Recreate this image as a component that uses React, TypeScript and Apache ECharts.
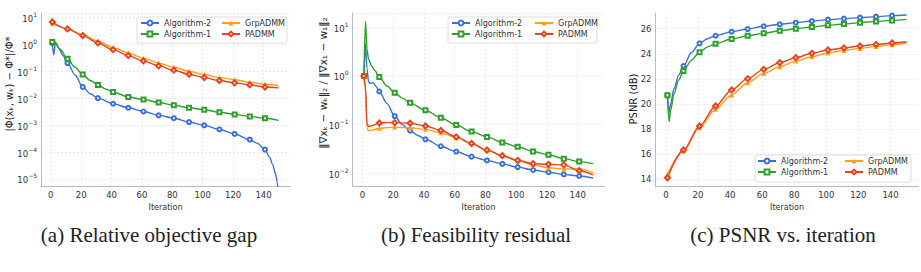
import React, { useEffect, useRef } from 'react';
import * as echarts from 'echarts';

// Shared iteration ticks
const xTicks = [0, 20, 40, 60, 80, 100, 120, 140];
const psnrTicks = [14, 16, 18, 20, 22, 24, 26];

const seriesNames = ['Algorithm-2', 'Algorithm-1', 'GrpADMM', 'PADMM'];

// (a) relative objective gap, [iteration, value]
const gapAlg2 = [
  [1, 1.1], [2, 0.4], [3, 1.15], [5, 0.75], [8, 0.38], [11, 0.2], [16, 0.072], [21, 0.026], [26, 0.0145],
  [31, 0.01], [41, 0.0062], [51, 0.0044], [61, 0.0032], [71, 0.0023], [81, 0.0018], [91, 0.0013],
  [101, 0.00098], [111, 0.00069], [121, 0.00047], [131, 0.00029], [136, 0.00021], [141, 0.000123],
  [144, 0.000065], [146, 0.000035], [148, 0.000015], [149, 0.000008], [150, 0.000002],
];
const gapAlg1 = [
  [1, 1.22], [2, 1.25], [3, 1.2], [6, 0.65], [11, 0.29], [16, 0.14], [21, 0.075], [26, 0.045], [31, 0.031],
  [36, 0.022], [41, 0.017], [51, 0.011], [61, 0.0089], [71, 0.0069], [81, 0.0055], [91, 0.0044],
  [101, 0.0037], [111, 0.003], [121, 0.0025], [131, 0.0021], [141, 0.0018], [150, 0.0015],
];
const gapGrp = [
  [1, 6.0], [11, 3.8], [21, 2.3], [31, 1.3], [41, 0.75], [51, 0.48], [61, 0.3], [71, 0.2], [81, 0.14],
  [91, 0.1], [101, 0.075], [111, 0.058], [121, 0.048], [131, 0.039], [141, 0.033], [150, 0.029],
];
const gapPadmm = [
  [1, 6.7], [11, 3.7], [21, 2.1], [31, 1.12], [41, 0.63], [51, 0.38], [61, 0.24], [71, 0.158], [81, 0.109],
  [91, 0.077], [101, 0.058], [111, 0.045], [121, 0.037], [131, 0.031], [141, 0.026], [150, 0.024],
];

// (b) feasibility residual
const resAlg2 = [
  [1, 1.0], [2, 4.6], [3, 1.4], [4, 0.75], [5, 0.7], [7, 0.73], [9, 0.6], [11, 0.48], [16, 0.27], [21, 0.15],
  [26, 0.1], [31, 0.075], [36, 0.06], [41, 0.05], [51, 0.036], [61, 0.028], [71, 0.022], [81, 0.0184],
  [91, 0.0156], [101, 0.0134], [111, 0.0117], [121, 0.0105], [131, 0.0095], [141, 0.0088], [150, 0.008],
];
const resAlg1 = [
  [1, 1.0], [2, 13.3], [3, 3.5], [4, 2.2], [6, 1.6], [8, 1.3], [11, 0.95], [16, 0.62], [21, 0.45], [26, 0.35],
  [31, 0.28], [41, 0.197], [51, 0.139], [61, 0.098], [71, 0.072], [81, 0.056], [91, 0.043], [101, 0.035],
  [111, 0.028], [121, 0.024], [131, 0.02], [141, 0.0174], [150, 0.0158],
];
const resGrp = [
  [1, 1.0], [2, 0.5], [3, 0.085], [4, 0.075], [6, 0.077], [11, 0.084], [16, 0.087], [21, 0.089], [31, 0.086],
  [41, 0.08], [51, 0.068], [61, 0.054], [71, 0.041], [81, 0.03], [91, 0.023], [101, 0.018], [111, 0.015],
  [121, 0.013], [131, 0.0123], [141, 0.0123], [150, 0.0103],
];
const resPadmm = [
  [1, 1.0], [2, 0.6], [3, 0.105], [4, 0.092], [6, 0.095], [11, 0.108], [16, 0.11], [21, 0.11], [31, 0.107],
  [41, 0.094], [51, 0.076], [61, 0.056], [71, 0.041], [81, 0.03], [91, 0.023], [101, 0.0185], [111, 0.0158],
  [121, 0.0153], [131, 0.0149], [141, 0.0113], [150, 0.0093],
];

// (c) PSNR in dB
const psnrAlg2 = [
  [1, 20.69], [2, 19.3], [3, 20.0], [5, 21.2], [8, 22.3], [11, 23.03], [16, 24.1], [21, 24.83], [26, 25.2],
  [31, 25.44], [41, 25.76], [51, 25.97], [61, 26.19], [71, 26.35], [81, 26.48], [91, 26.61], [101, 26.72],
  [111, 26.8], [121, 26.88], [131, 26.96], [141, 27.04], [150, 27.09],
];
const psnrAlg1 = [
  [1, 20.69], [2, 18.6], [3, 19.5], [5, 20.8], [8, 21.9], [11, 22.63], [16, 23.5], [21, 24.12], [26, 24.55],
  [31, 24.81], [41, 25.18], [51, 25.44], [61, 25.63], [71, 25.84], [81, 26.0], [91, 26.13], [101, 26.27],
  [111, 26.37], [121, 26.48], [131, 26.58], [141, 26.66], [150, 26.74],
];
const psnrGrp = [
  [1, 14.4], [11, 16.28], [21, 18.12], [31, 19.58], [41, 20.72], [51, 21.7], [61, 22.44], [71, 22.97],
  [81, 23.42], [91, 23.77], [101, 24.06], [111, 24.27], [121, 24.43], [131, 24.59], [141, 24.73], [150, 24.86],
];
const psnrPadmm = [
  [1, 14.13], [11, 16.34], [21, 18.25], [31, 19.84], [41, 21.12], [51, 22.02], [61, 22.76], [71, 23.29],
  [81, 23.69], [91, 24.04], [101, 24.3], [111, 24.46], [121, 24.62], [131, 24.75], [141, 24.86], [150, 24.96],
];

const captions = ['(a) Relative objective gap', '(b) Feasibility residual', '(c) PSNR vs. iteration'];
const yTitles = ['|Φ(xₖ, wₖ) − Φ*|/Φ*', '‖∇xₖ − wₖ‖₂ / ‖∇x₁ − w₁‖₂', 'PSNR (dB)'];

const COLORS = ['#3b6fd8', '#2e9e2e', '#ff9e1b', '#e5421e'];
const SYMBOLS = ['emptyCircle', 'emptyRect', 'triangle', 'emptyDiamond'];
const SYMBOL_SIZES = [4, 4, 5, 5];

const AXIS_COLOR = '#b3bccb';
const GRID_COLOR = '#e2e5ea';
const TEXT_COLOR = '#333';

// plot rectangles: left, top, width, height
const grids = [
  { left: 41, top: 13, width: 249, height: 173 },
  { left: 352.5, top: 13, width: 252, height: 173 },
  { left: 655.5, top: 13, width: 263, height: 173 },
];

function markEvery10(data: number[][]) {
  return data.map(([it, v]) =>
    (it - 1) % 10 === 0 ? [it, v] : { value: [it, v], symbol: 'none' }
  );
}

function powLabel(v: number) {
  const e = Math.round(Math.log10(v));
  return '{b|10}{s|' + (e < 0 ? '−' + -e : String(e)) + '}';
}

const labelRich = {
  b: { fontSize: 8.5, color: TEXT_COLOR, fontFamily: 'DejaVu Sans', lineHeight: 12, verticalAlign: 'bottom' },
  s: { fontSize: 6, color: TEXT_COLOR, fontFamily: 'DejaVu Sans', lineHeight: 12, verticalAlign: 'top' },
};

function xAxis(i: number) {
  return {
    type: 'value',
    gridIndex: i,
    min: -6.45,
    max: 157.45,
    name: 'Iteration',
    nameLocation: 'middle',
    nameGap: 17,
    nameTextStyle: { fontSize: 8, color: TEXT_COLOR, fontFamily: 'DejaVu Sans' },
    axisLine: { show: true, onZero: false, lineStyle: { color: AXIS_COLOR, width: 1 } },
    axisTick: { show: false, customValues: xTicks },
    axisLabel: { customValues: xTicks, fontSize: 8.5, color: TEXT_COLOR, fontFamily: 'DejaVu Sans', margin: 4 },
    splitLine: { show: true, lineStyle: { color: GRID_COLOR, type: [2, 2], width: 0.8 } },
  };
}

function logAxis(i: number, lo: number, hi: number) {
  return {
    type: 'log',
    logBase: 10,
    gridIndex: i,
    min: Math.pow(10, lo),
    max: Math.pow(10, hi),
    axisLine: { show: true, onZero: false, lineStyle: { color: AXIS_COLOR, width: 1 } },
    axisTick: { show: false },
    axisLabel: {
      formatter: powLabel,
      rich: labelRich,
      showMinLabel: false,
      showMaxLabel: false,
      margin: 4,
    },
    splitLine: { show: true, lineStyle: { color: GRID_COLOR, type: [2, 2], width: 0.8 } },
  };
}

const panelData = [
  [gapAlg2, gapAlg1, gapGrp, gapPadmm],
  [resAlg2, resAlg1, resGrp, resPadmm],
  [psnrAlg2, psnrAlg1, psnrGrp, psnrPadmm],
];

// legend columns: [left of column 1, left of column 2, top], and frame rect
const legendPos = [
  { c1: 140, c2: 221, top: 19, box: [137, 17, 150, 26] },
  { c1: 451, c2: 534, top: 19, box: [448, 17, 149, 26] },
  { c1: 757, c2: 844, top: 157, box: [755, 155, 156, 27] },
];
const captionX = [149, 476, 783];
const yTitlePos = [
  [9, 84],
  [323, 83],
  [633, 99],
];

export default function App() {
  const ref = useRef<HTMLDivElement>(null);

  useEffect(() => {
    if (!ref.current) return;
    const chart = echarts.init(ref.current, undefined, { renderer: 'svg' });

    const series: any[] = [];
    panelData.forEach((sets, p) => {
      sets.forEach((arr, k) => {
        series.push({
          type: 'line',
          name: seriesNames[k],
          xAxisIndex: p,
          yAxisIndex: p,
          data: markEvery10(arr),
          smooth: 0.3,
          smoothMonotone: 'x',
          symbol: SYMBOLS[k],
          symbolSize: SYMBOL_SIZES[k],
          showSymbol: true,
          clip: true,
          lineStyle: { width: 1.4, color: COLORS[k] },
          itemStyle: { color: COLORS[k], borderWidth: 0.9 },
          emphasis: { disabled: true },
          z: 2 + k,
        });
      });
    });

    const legends: any[] = [];
    legendPos.forEach((lp) => {
      [[seriesNames[0], seriesNames[1], lp.c1], [seriesNames[2], seriesNames[3], lp.c2]].forEach((col) => {
        legends.push({
          data: [col[0], col[1]],
          orient: 'vertical',
          left: col[2],
          top: lp.top,
          itemWidth: 18,
          itemHeight: 6,
          itemGap: 3,
          padding: 0,
          selectedMode: false,
          textStyle: { fontSize: 8, color: TEXT_COLOR, fontFamily: 'DejaVu Sans', lineHeight: 8 },
          z: 10,
        });
      });
    });

    const graphics: any[] = [];
    legendPos.forEach((lp) => {
      graphics.push({
        type: 'rect',
        shape: { x: lp.box[0], y: lp.box[1], width: lp.box[2], height: lp.box[3], r: 2 },
        style: { fill: 'rgba(255,255,255,0.9)', stroke: '#d4d4d4', lineWidth: 0.8 },
        z: 8,
      });
    });
    yTitles.forEach((t, i) => {
      graphics.push({
        type: 'text',
        x: yTitlePos[i][0],
        y: yTitlePos[i][1],
        rotation: Math.PI / 2,
        style: {
          text: t,
          fontSize: i === 1 ? 10.5 : 10,
          fontFamily: 'DejaVu Sans',
          fill: '#222',
          align: 'center',
          verticalAlign: 'middle',
        },
      });
    });
    captions.forEach((c, i) => {
      graphics.push({
        type: 'text',
        x: captionX[i],
        y: 235,
        style: {
          text: c,
          fontSize: 21,
          fontFamily: 'Liberation Serif',
          fill: '#222',
          align: 'center',
          verticalAlign: 'middle',
        },
      });
    });

    chart.setOption({
      animation: false,
      backgroundColor: '#fff',
      grid: grids,
      xAxis: [xAxis(0), xAxis(1), xAxis(2)],
      yAxis: [
        logAxis(0, -5.26, 1.16),
        logAxis(1, -2.261, 1.294),
        {
          type: 'value',
          gridIndex: 2,
          min: 13.47,
          max: 27.25,
          axisLine: { show: true, onZero: false, lineStyle: { color: AXIS_COLOR, width: 1 } },
          axisTick: { show: false, customValues: psnrTicks },
          axisLabel: { customValues: psnrTicks, fontSize: 8.5, color: TEXT_COLOR, fontFamily: 'DejaVu Sans', margin: 4 },
          splitLine: { show: true, lineStyle: { color: GRID_COLOR, type: [2, 2], width: 0.8 } },
        },
      ],
      legend: legends,
      graphic: graphics,
      series,
    });

    return () => chart.dispose();
  }, []);

  return (
    <div
      ref={ref}
      style={{ position: 'absolute', left: 0, top: 0, width: 921, height: 272 }}
    />
  );
}
